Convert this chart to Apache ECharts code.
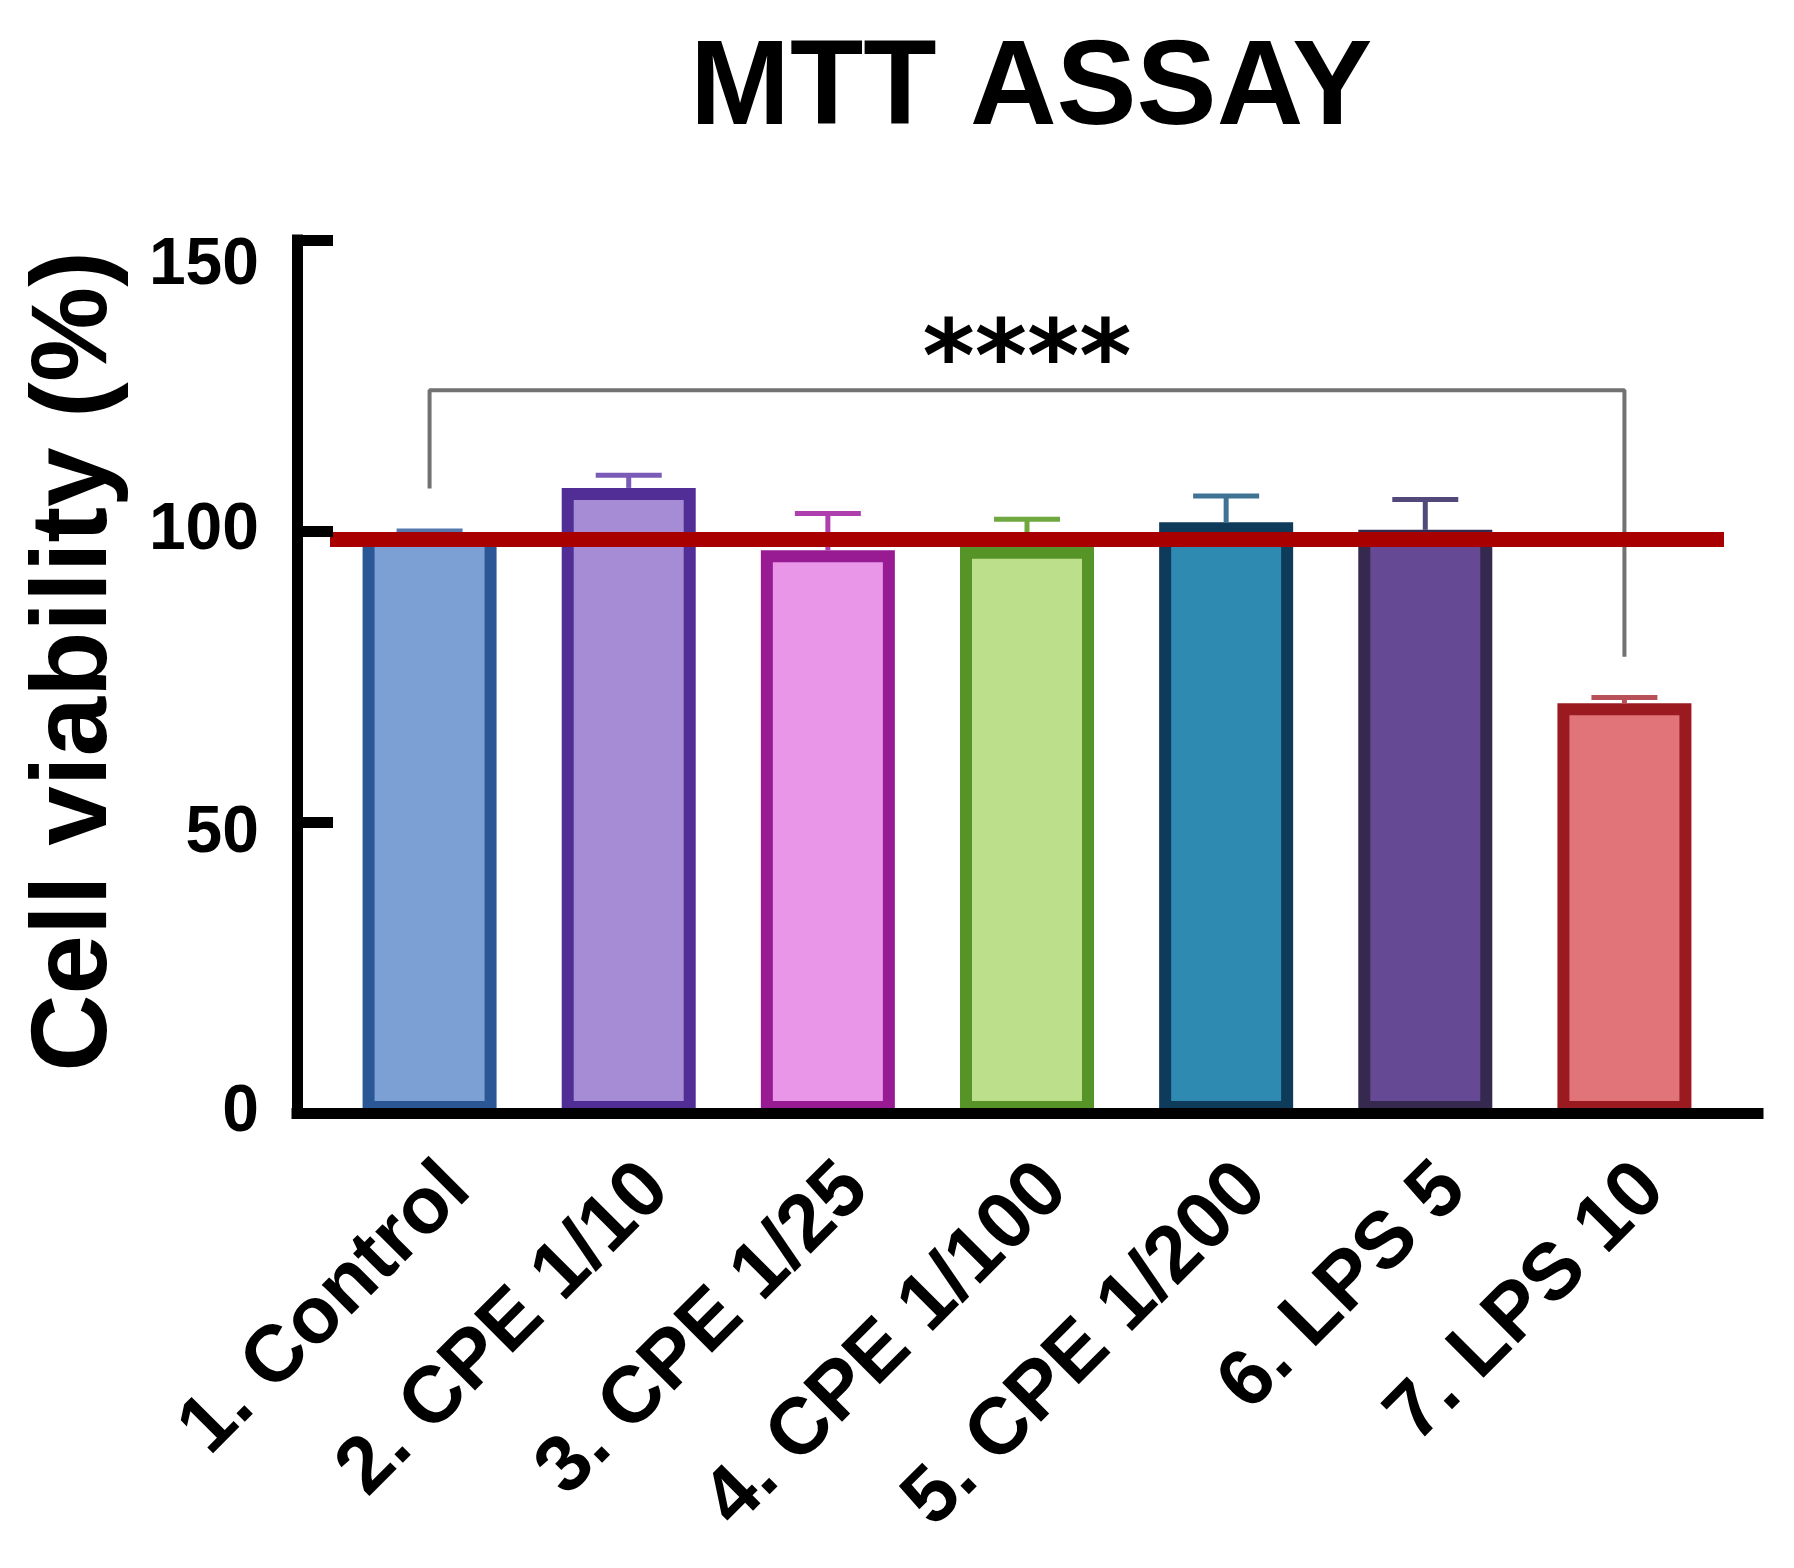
<!DOCTYPE html>
<html>
<head>
<meta charset="utf-8">
<title>MTT ASSAY</title>
<script src="https://cdn.jsdelivr.net/npm/echarts@6.0.0/dist/echarts.min.js"></script>
<style>
  html, body { margin: 0; padding: 0; background: #fff; }
  #chart { width: 1794px; height: 1568px; }
</style>
</head>
<body>
<div id="chart"></div>
<script>
// data
const categories = ['1. Control', '2. CPE 1/10', '3. CPE 1/25', '4. CPE 1/100', '5. CPE 1/200', '6. LPS 5', '7. LPS 10'];
const viability = [99.5, 107.4, 96.7, 97.3, 101.5, 100.2, 70.4];
const sem = [0.5, 2.2, 6.3, 4.7, 4.5, 5.2, 1.0];
const yTicks = [0, 50, 100, 150];
const referenceLevel = 98.5;
const bracketX = ['1. Control', '1. Control', '7. LPS 10', '7. LPS 10'];
const bracketY = [107.3, 124.2, 124.2, 78.4];
const significance = '****';

const fills = ['#7ca0d4', '#a68bd5', '#e996e9', '#bcdf8b', '#2e8ab1', '#654995', '#e07479'];
const borders = ['#2b5797', '#512d96', '#981b94', '#579427', '#0e3b5a', '#35294f', '#9a1a20'];
const errColors = ['#5679b0', '#7a5bb8', '#b03fae', '#6ea83e', '#3e7393', '#52487a', '#b8505a'];

const FONT = '"Liberation Sans", Arial, sans-serif';

const chart = echarts.init(document.getElementById('chart'));

const option = {
  backgroundColor: '#fff',
  animation: false,
  title: {
    text: 'MTT ASSAY',
    left: 690,
    top: 31,
    padding: 0,
    textStyle: { fontFamily: FONT, fontWeight: 'bold', fontSize: 120, color: '#000' }
  },
  grid: [
    { left: 330, right: 70, top: 240, bottom: 455 },
    { left: 297, right: 36, top: 240, bottom: 455 }
  ],
  xAxis: [
    {
      type: 'category',
      gridIndex: 0,
      data: categories,
      axisLine: { show: false },
      axisTick: { show: false },
      axisLabel: {
        interval: 0,
        rotate: 45,
        margin: 36,
        verticalAlign: 'top',
        fontFamily: FONT,
        fontWeight: 'bold',
        fontSize: 80,
        color: '#000'
      }
    },
    {
      type: 'value',
      gridIndex: 1,
      min: 0,
      max: 1,
      z: 10,
      axisLine: { show: true, lineStyle: { color: '#000', width: 11, cap: 'square' } },
      axisTick: { show: false },
      axisLabel: { show: false },
      splitLine: { show: false }
    }
  ],
  yAxis: [
    {
      type: 'value',
      gridIndex: 0,
      min: yTicks[0],
      max: yTicks[yTicks.length - 1],
      interval: 50,
      show: false
    },
    {
      type: 'value',
      gridIndex: 1,
      min: yTicks[0],
      max: yTicks[yTicks.length - 1],
      interval: 50,
      z: 10,
      name: 'Cell viability (%)',
      nameLocation: 'middle',
      nameGap: 167,
      nameTextStyle: {
        fontFamily: FONT,
        fontWeight: 'bold',
        fontSize: 107,
        color: '#000',
        padding: [0, 0, 0, 30]
      },
      axisLine: { show: true, lineStyle: { color: '#000', width: 11, cap: 'square' } },
      axisTick: { show: true, inside: true, length: 36, lineStyle: { color: '#000', width: 11 } },
      axisLabel: {
        margin: 38,
        fontFamily: FONT,
        fontWeight: 'bold',
        fontSize: 66,
        color: '#000',
        formatter: function (v) {
          if (v === 150) return '{low|' + v + '}';
          if (v === 50) return '{mid|' + v + '}';
          return String(v);
        },
        rich: {
          low: { padding: [52, 0, 0, 0], fontFamily: FONT, fontWeight: 'bold', fontSize: 66, color: '#000' },
          mid: { padding: [24, 0, 0, 0], fontFamily: FONT, fontWeight: 'bold', fontSize: 66, color: '#000' }
        }
      },
      splitLine: { show: false }
    }
  ],
  series: [
    {
      type: 'bar',
      xAxisIndex: 0,
      yAxisIndex: 0,
      barWidth: 134,
      z: 2,
      data: viability.map(function (v, i) {
        return {
          value: v,
          itemStyle: { color: fills[i], borderColor: borders[i], borderWidth: 12 }
        };
      })
    },
    {
      type: 'custom',
      xAxisIndex: 0,
      yAxisIndex: 0,
      z: 3,
      encode: { x: 0, y: [1, 2] },
      data: viability.map(function (v, i) { return [i, v, v + sem[i]]; }),
      renderItem: function (params, api) {
        const base = api.coord([api.value(0), api.value(1)]);
        const end = api.coord([api.value(0), api.value(2)]);
        const stroke = errColors[params.dataIndex];
        return {
          type: 'group',
          children: [
            { type: 'line', shape: { x1: base[0], y1: base[1], x2: end[0], y2: end[1] }, style: { stroke: stroke, lineWidth: 5 } },
            { type: 'line', shape: { x1: end[0] - 33, y1: end[1], x2: end[0] + 33, y2: end[1] }, style: { stroke: stroke, lineWidth: 5 } }
          ]
        };
      }
    },
    {
      type: 'line',
      xAxisIndex: 0,
      yAxisIndex: 0,
      z: 4,
      symbol: 'none',
      lineStyle: { color: '#727272', width: 4 },
      data: bracketX.map(function (c, i) { return [c, bracketY[i]]; }),
      markPoint: {
        symbolSize: 0,
        data: [{
          coord: [categories[3], bracketY[1]],
          label: {
            show: true,
            position: 'inside',
            offset: [0, -25],
            formatter: significance,
            fontFamily: '"DejaVu Sans", sans-serif',
            fontWeight: 'bold',
            fontSize: 100,
            color: '#000'
          }
        }]
      },
      markLine: {
        silent: true,
        symbol: 'none',
        label: { show: false },
        lineStyle: { color: '#a80000', width: 15, type: 'solid' },
        data: [{ yAxis: referenceLevel }]
      }
    }
  ]
};

chart.setOption(option);

window.addEventListener('resize', function () {
  chart.resize();
});
</script>
</body>
</html>
